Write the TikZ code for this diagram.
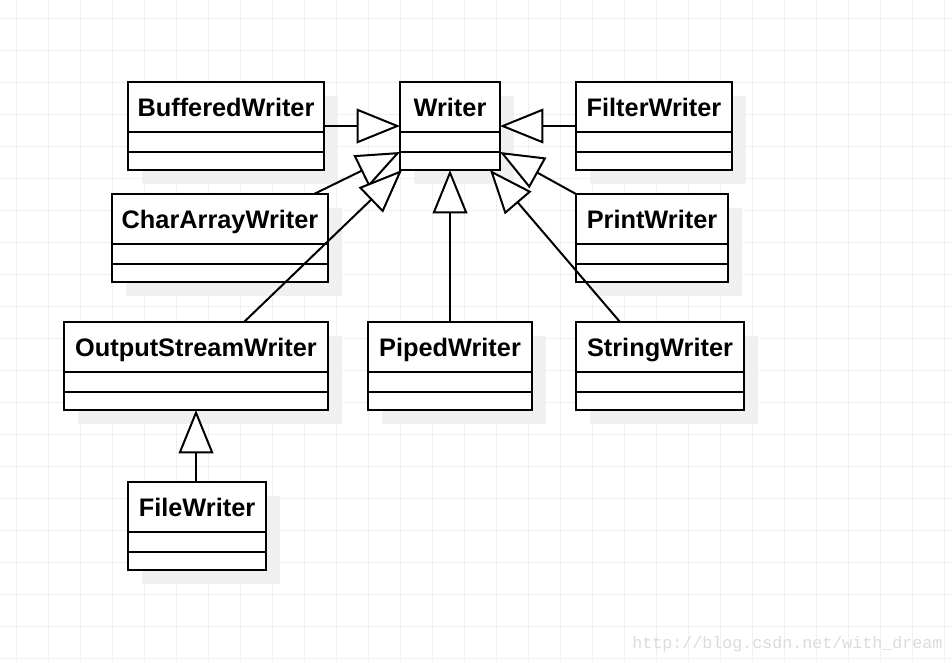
\documentclass[tikz,border=0pt]{standalone}
\usepackage{fontspec}
\setmainfont{Liberation Sans}
\newfontfamily\urlfont{Liberation Mono}
\usetikzlibrary{arrows.meta,calc}

\definecolor{gridgray}{RGB}{240,240,240}
\definecolor{shadowgray}{RGB}{240,240,240}
\definecolor{markgray}{RGB}{220,220,214}

\tikzset{
    classbox/.style={draw, fill=white, line width=1.5pt, minimum height=66pt, inner sep=0pt, outer sep=0pt},
    classname/.style={font=\bfseries\fontsize{19}{22}\selectfont, inner sep=0pt, anchor=base},
    extends/.style={line width=1.5pt, -{Triangle[fill=white, length=32.5pt, width=26pt]}}
}

\begin{document}
\begin{tikzpicture}[x=0.75pt, y=-0.75pt]
    % Canvas and grid (32px)
    \fill[white] (0,0) rectangle (952,662);
    \useasboundingbox (0,0) rectangle (952,662);
    \foreach \x in {16,48,...,944} \draw[gridgray, line width=0.75pt] (\x,0) -- (\x,662);
    \foreach \y in {18,50,...,658} \draw[gridgray, line width=0.75pt] (0,\y) -- (952,\y);

    % Classes: name/left/top/width/label
    \foreach \n/\x/\y/\w/\lbl in {
        bw/128/82/196/BufferedWriter,
        writer/400/82/100/Writer,
        fw/576/82/156/FilterWriter,
        caw/112/194/216/CharArrayWriter,
        prw/576/194/152/PrintWriter,
        osw/64/322/264/OutputStreamWriter,
        pw/368/322/164/PipedWriter,
        sw/576/322/168/StringWriter,
        fiw/128/482/138/FileWriter}
    {
        \fill[shadowgray] (\x+14,\y+14) rectangle ++(\w,88);
        \node[classbox, minimum width=0.75pt*\w, anchor=north west] (\n) at (\x,\y) {};
        \node[classname] (\n-t) at ($(\n.north)+(0,34)$) {\lbl};
        \draw[line width=1.5pt] ($(\n.north west)+(0,49.5)$) -- +(\w,0);
        \draw[line width=1.5pt] ($(\n.north west)+(0,69.5)$) -- +(\w,0);
    }

    % Generalizations
    \draw[extends] (bw.east) -- (writer.west);
    \draw[extends] (fw.west) -- (writer.east);
    \draw[extends] ($(caw.north east)+(-14,0)$) -- ($(writer.west)+(0,26)$);
    \draw[extends] ($(osw.north)+(48,0)$) -- ($(writer.south west)+(2,0)$);
    \draw[extends] (pw.north) -- (writer.south);
    \draw[extends] (prw.north west) -- ($(writer.east)+(0,26)$);
    \draw[extends] ($(sw.north west)+(44,0)$) -- ($(writer.south east)+(-10,0)$);
    \draw[extends] (fiw.north -| osw.south) -- (osw.south);

    % Watermark
    \node[markgray, font=\urlfont\fontsize{12.5}{14}\selectfont, anchor=base west, inner sep=0pt] (mark) at (632,648) {http://blog.csdn.net/with\_dream};
\end{tikzpicture}
\end{document}
